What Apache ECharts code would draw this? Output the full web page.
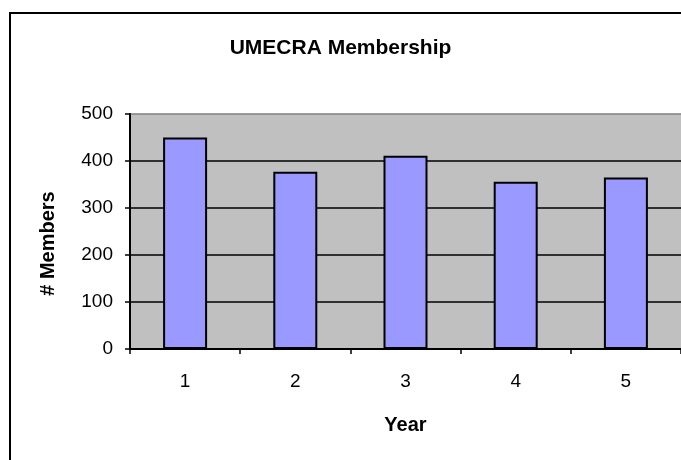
<!DOCTYPE html>
<html>
<head>
<meta charset="utf-8">
<script src="https://cdn.jsdelivr.net/npm/echarts@6/dist/echarts.min.js"></script>
<style>
html,body{margin:0;padding:0;background:#fff;}
#main{width:681px;height:460px;}
</style>
</head>
<body>
<div id="main"></div>
<script>
//数据
var years=['1','2','3','4','5'];
var members=[450,377,411,356,365];
var yTicks=[0,100,200,300,400,500];

var myChart=echarts.init(document.getElementById('main'));
var font='"Liberation Sans", Arial, sans-serif';
var option={
	animation:false,
	backgroundColor:'#fff',
	title:{
		text:'UMECRA Membership',
		left:'center',
		top:33,
		textStyle:{fontFamily:font,fontSize:21,fontWeight:'bold',color:'#000'}
	},
	graphic:[{
		type:'rect',
		shape:{x:10,y:13,width:700,height:500},
		style:{fill:'none',stroke:'#000',lineWidth:2},
		silent:true
	}],
	grid:{left:130,top:114,right:-4,bottom:111,show:true,backgroundColor:'#c0c0c0',borderWidth:0},
	xAxis:{
		type:'category',
		data:years,
		name:'Year',
		nameLocation:'middle',
		nameGap:66,
		nameTextStyle:{fontFamily:font,fontSize:20,fontWeight:'bold',color:'#000'},
		axisLine:{lineStyle:{color:'#000',width:2}},
		axisTick:{show:true,length:5,lineStyle:{color:'#000',width:1.5}},
		axisLabel:{margin:23,fontFamily:font,fontSize:19,color:'#000'}
	},
	yAxis:{
		type:'value',
		min:0,
		max:500,
		interval:100,
		name:'# Members',
		nameLocation:'middle',
		nameGap:72,
		nameTextStyle:{fontFamily:font,fontSize:20,fontWeight:'bold',color:'#000',padding:[0,24,0,0]},
		axisLine:{show:true,lineStyle:{color:'#000',width:2}},
		axisTick:{show:true,length:5,lineStyle:{color:'#000',width:1.5}},
		axisLabel:{margin:17,fontFamily:font,fontSize:19,color:'#000',
			formatter:function(v){return yTicks.indexOf(v)>=0?String(v):'';}},
		splitLine:{lineStyle:{color:['#000','#000','#000','#000','#000','#808080'],width:1.5}}
	},
	series:[{
		name:'Members',
		type:'bar',
		data:members,
		barWidth:44,
		itemStyle:{color:'#9999ff',borderColor:'#000',borderWidth:2}
	}]
};
myChart.setOption(option);
</script>
</body>
</html>
